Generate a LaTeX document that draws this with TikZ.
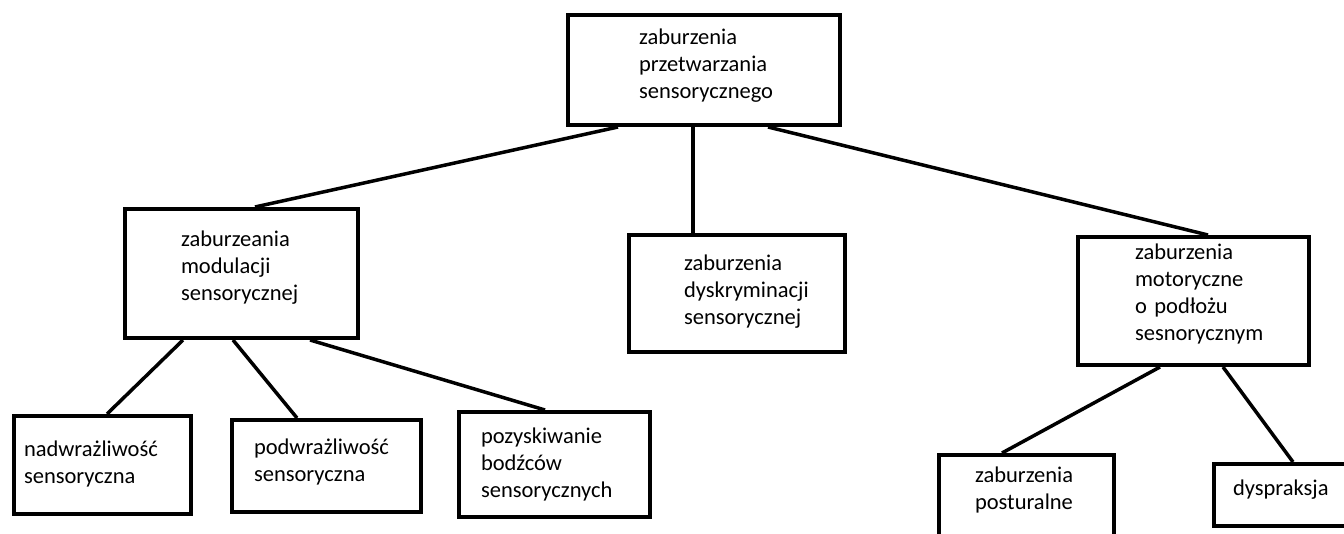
\documentclass[tikz,border=0pt]{standalone}
\usepackage{fontspec}
\setmainfont{Carlito}
\hyphenpenalty=10000

\begin{document}
\begin{tikzpicture}[
  x=1pt, y=-1pt,
  box/.style={draw, line width=4pt, anchor=north west, align=left, inner sep=0pt, font=\fontsize{22.5}{27}\selectfont},
  link/.style={line width=3.5pt},
]
  \useasboundingbox (0,0) rectangle (1344,534);
  \clip (0,0) rectangle (1344,534);

  % top level
  \node[box, minimum width=272pt, text width=130pt, text height=30pt, text depth=80pt] (root) at (566,13) {zaburzenia\\przetwarzania\\sensorycznego};

  % second level
  \node[box, minimum width=233pt, text width=121pt, text height=38pt, text depth=91pt] (modul) at (123,207) {zaburzeania\\modulacji\\sensorycznej};
  \node[box, minimum width=216pt, text width=106pt, text height=36pt, text depth=81pt] (dyskr) at (627,233) {zaburzenia\\dyskryminacji\\sensorycznej};
  \node[box, minimum width=231pt, text width=117pt, text height=23pt, text depth=105pt] (motor) at (1076,235) {zaburzenia\\motoryczne\\o podłożu\\sesnorycznym};

  % third level
  \node[box, minimum width=177pt, text width=157pt, text height=40pt, text depth=58pt] (nadwr) at (12,414) {nadwrażliwość\\sensoryczna};
  \node[box, minimum width=189pt, text width=145pt, text height=34pt, text depth=58pt] (podwr) at (230,418) {podwrażliwość\\sensoryczna};
  \node[box, minimum width=191pt, text width=147pt, text height=31pt, text depth=74pt] (pozysk) at (457,410) {pozyskiwanie\\bodźców\\sensorycznych};
  \node[box, minimum width=175pt, text width=103pt, text height=27pt, text depth=80pt] (postur) at (937,453) {zaburzenia\\posturalne};
  \node[box, minimum width=160pt, text width=122pt, text height=31pt, text depth=31pt] (dyspr) at (1212,462) {dyspraksja};

  \draw[link] ([xshift=52pt]root.south west) -- ([xshift=132pt]modul.north west);
  \draw[link] ([xshift=127pt]root.south west) -- ([xshift=66pt]dyskr.north west);
  \draw[link] ([xshift=202pt]root.south west) -- ([xshift=132pt]motor.north west);

  \draw[link] ([xshift=60pt]modul.south west) -- ([xshift=95pt]nadwr.north west);
  \draw[link] ([xshift=110pt]modul.south west) -- ([xshift=67pt]podwr.north west);
  \draw[link] ([xshift=187pt]modul.south west) -- ([xshift=88pt]pozysk.north west);

  \draw[link] ([xshift=84pt]motor.south west) -- ([xshift=65pt]postur.north west);
  \draw[link] ([xshift=147pt]motor.south west) -- ([xshift=81pt]dyspr.north west);
\end{tikzpicture}
\end{document}
